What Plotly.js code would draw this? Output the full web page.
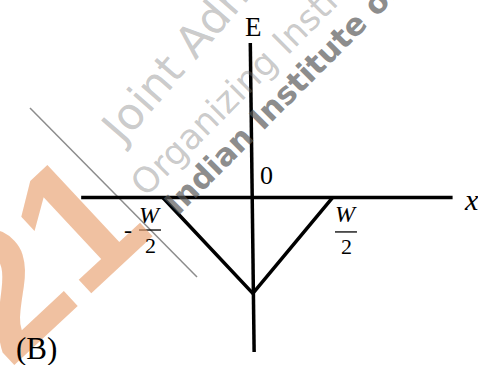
<!DOCTYPE html>
<html>
<head>
<meta charset="utf-8">
<script src="https://cdn.plot.ly/plotly-3.0.1.min.js"></script>
<style>
  html, body { margin: 0; padding: 0; background: #fff; }
  #chart { width: 478px; height: 365px; }
</style>
</head>
<body>
<div id="chart"></div>
<script>
// units: x in W/2, E in depth of the well
var wellX = [-1.05, 0.01, 0.95];
var wellE = [0, -1, 0];

var xAxisX = [-2.01, 2.36];
var xAxisE = [0, 0];
var eAxisX = [-0.02, 0.025];
var eAxisE = [1.61, -1.61];

var axisNames = ["E", "x", "0"];
var halfWidth = ["W", "2"];
var figLabel = "(B)";

// watermark texts
var marks = ["Joint Admission Test", "Organizing Institute", "Indian Institute of Technology", "21"];

function px(x) { return x / 478; }
function py(y) { return 1 - y / 365; }

var line = {color: "#000", width: 3.5};

var data = [
	{type: "scatter", mode: "lines", x: xAxisX, y: xAxisE, line: line, hoverinfo: "skip"},
	{type: "scatter", mode: "lines", x: eAxisX, y: eAxisE, line: line, hoverinfo: "skip"},
	{type: "scatter", mode: "lines", x: wellX, y: wellE, line: line, hoverinfo: "skip"}
];

var serif = "Liberation Serif, Times New Roman, serif";
function lab(text, x, y, size, italic, ref) {
	return {
		text: italic ? "<i>" + text + "</i>" : text,
		x: x, y: y, xref: ref || "x", yref: ref ? "paper" : "y",
		xanchor: "center", yanchor: "middle", showarrow: false,
		font: {family: serif, size: size, color: "#000"}
	};
}
// watermark: x = left edge, y = bottom edge of the rotated box
function wm(text, x, y, size, color, bold, fam, ang, xa, ya) {
	return {
		text: bold ? "<b>" + text + "</b>" : text,
		x: px(x), y: py(y), xref: "paper", yref: "paper",
		xanchor: xa || "left", yanchor: ya || "bottom", showarrow: false,
		textangle: ang || -45,
		font: {family: fam || "DejaVu Sans, sans-serif", size: size, color: color}
	};
}

var annotations = [
	wm(marks[3], 40, 255, 180, "rgba(232,160,110,0.65)", true, "Liberation Sans, Arial, sans-serif", -43, "center", "middle"),
	wm(marks[0], 87, 156, 44, "rgba(120,120,120,0.4)", false, null, -49),
	wm(marks[1], 120, 206, 35, "rgba(120,120,120,0.4)"),
	wm(marks[2], 154, 224, 31, "rgba(90,90,90,0.7)", true),
	lab(axisNames[0], 0.012, 1.776, 27),
	lab(axisNames[1], 2.58, -0.026, 30, true),
	lab(axisNames[2], 0.17, 0.224, 26),
	lab(halfWidth[0], 1.106, -0.177, 24, true),
	lab(halfWidth[1], 1.106, -0.51, 22),
	lab(halfWidth[0], -1.2, -0.182, 24, true),
	lab(halfWidth[1], -1.2, -0.505, 22),
	lab("-", -1.459, -0.335, 24),
	lab(figLabel, px(36), py(348), 31, false, "paper")
];

var shapes = [
	{type: "line", xref: "paper", yref: "paper", x0: px(30), y0: py(108), x1: px(197), y1: py(277),
		line: {color: "#8c8c8c", width: 1.5}, layer: "below"},
	{type: "line", x0: 0.976, x1: 1.235, y0: -0.359, y1: -0.359, line: {color: "#000", width: 1.3}},
	{type: "line", x0: -1.329, x1: -1.071, y0: -0.339, y1: -0.339, line: {color: "#000", width: 1.3}}
];

var layout = {
	width: 478, height: 365,
	margin: {l: 0, r: 0, t: 0, b: 0},
	paper_bgcolor: "#fff", plot_bgcolor: "rgba(0,0,0,0)",
	showlegend: false,
	xaxis: {range: [-2.965, 2.659], visible: false, fixedrange: true},
	yaxis: {range: [-1.745, 2.057], visible: false, fixedrange: true},
	annotations: annotations,
	shapes: shapes
};

Plotly.newPlot("chart", data, layout, {staticPlot: true, displayModeBar: false});
</script>
</body>
</html>
